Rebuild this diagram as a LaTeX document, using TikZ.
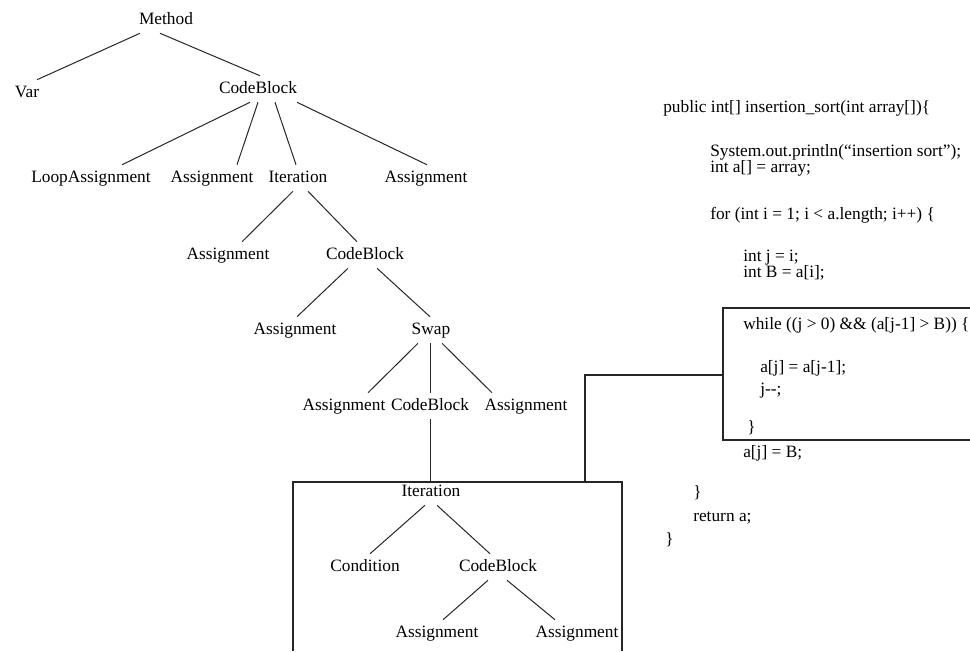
\documentclass[tikz,border=0pt]{standalone}
\usepackage{fontspec}
\setmainfont{Liberation Serif}
\usetikzlibrary{calc}
\begin{document}
\begin{tikzpicture}[x=0.75pt,y=-0.75pt,
  tn/.style={inner xsep=0pt, inner ysep=3.75pt, text height=9pt, text depth=3pt,
             font=\fontsize{13}{15}\selectfont},
  code/.style={anchor=west, inner sep=0pt, text height=9pt, text depth=3pt,
               font=\fontsize{13}{15}\selectfont},
  edge/.style={line width=0.75pt, draw=black!85},
  frame/.style={line width=1pt, draw=black!85}]
\useasboundingbox (0,0) rectangle (970,651);

% syntax tree
\node[tn] (method) at (166,20)  {Method};
\node[tn] (var)    at (27,93)   {Var};
\node[tn] (cb1)    at (258,89)  {CodeBlock};
\node[tn] (la)     at (91,178)  {LoopAssignment};
\node[tn] (a1)     at (212,178) {Assignment};
\node[tn] (it1)    at (298,178) {Iteration};
\node[tn] (a2)     at (426,178) {Assignment};
\node[tn] (b1)     at (228,255) {Assignment};
\node[tn] (cb2)    at (365,255) {CodeBlock};
\node[tn] (c1)     at (295,330) {Assignment};
\node[tn] (swap)   at (431,330) {Swap};
\node[tn] (d1)     at (344,406) {Assignment};
\node[tn] (cb3)    at (430,406) {CodeBlock};
\node[tn] (d2)     at (526,406) {Assignment};
\node[tn] (it2)    at (431,492) {Iteration};
\node[tn] (cond)   at (365,567) {Condition};
\node[tn] (cb4)    at (498,567) {CodeBlock};
\node[tn] (e1)     at (437,633) {Assignment};
\node[tn] (e2)     at (577,633) {Assignment};

\foreach \p/\c/\a/\b in {method/var/-26/10, method/cb1/-6/2,
    cb1/la/-8/31, cb1/a1/0/25, cb1/it1/17/-2, cb1/a2/39/1,
    it1/b1/-5/14, it1/cb2/10/-8,
    cb2/c1/-17/2, cb2/swap/12/-1,
    swap/d1/-13/24, swap/cb3/-1/0, swap/d2/11/-34,
    it2/cond/-6/5, it2/cb4/6/-8,
    cb4/e1/-10/6, cb4/e2/9/-22}
  \draw[edge] ($(\p.south)+(\a,0)$) -- ($(\c.north)+(\b,0)$);

% frame around the inner loop subtree
\coordinate (bt) at (585,482);
\coordinate (cl) at (723,375);
\draw[frame] (293,651) -- (293,482) -- (622,482) -- (622,651);
\draw[edge] (cb3.south) -- (cb3.south |- bt);

% source code
\node[code] (l1)  at (663,108) {public int[] insertion\_sort(int array[])\{};
\node[code] (l2)  at (710,152) {System.out.println(“insertion sort”);};
\node[code] (l3)  at (710,168) {int a[] = array;};
\node[code] (l4)  at (710,215) {for (int i = 1; i < a.length; i++) \{};
\node[code] (l5)  at (743,257) {int j = i;};
\node[code] (l6)  at (743,273) {int B = a[i];};
\node[code] (l7)  at (743,325) {while ((j > 0) \&\& (a[j-1] > B)) \{};
\node[code] (l8)  at (760,368) {a[j] = a[j-1];};
\node[code] (l9)  at (760,390) {j-{}-;};
\node[code] (l10) at (747,428) {\}};
\node[code] (l11) at (743,453) {a[j] = B;};
\node[code] (l12) at (693,493) {\}};
\node[code] (l13) at (693,517) {return a;};
\node[code] (l14) at (665,540) {\}};

% frame around the while loop and the link to the tree
\draw[frame] (970,308) -- (723,308) -- (723,440) -- (970,440);
\draw[frame] (bt) |- (cl);
\end{tikzpicture}
\end{document}
